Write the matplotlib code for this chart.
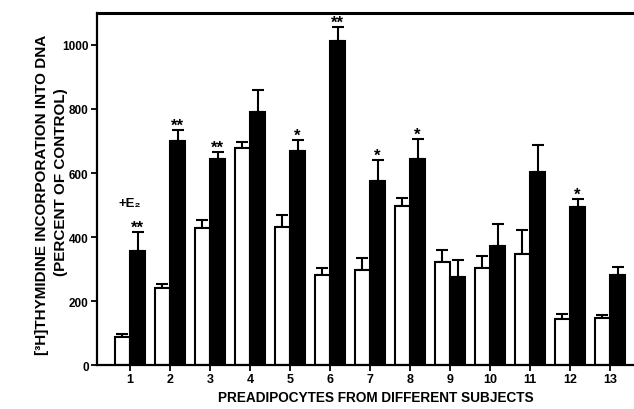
import matplotlib
matplotlib.use("Agg")
import matplotlib.pyplot as plt
import numpy as np

subjects = [1, 2, 3, 4, 5, 6, 7, 8, 9, 10, 11, 12, 13]
control = [88, 240, 428, 678, 432, 281, 297, 497, 322, 302, 347, 144, 147]
control_err = [9, 14, 25, 19, 38, 22, 37, 25, 38, 39, 74, 15, 9]
estradiol = [357, 700, 644, 790, 669, 1013, 574, 644, 274, 373, 604, 493, 282]
estradiol_err = [58, 35, 22, 70, 34, 43, 67, 63, 54, 68, 84, 25, 23]
signif = ["**", "**", "**", "", "*", "**", "*", "*", "", "", "", "*", ""]
yticks = [0, 200, 400, 600, 800, 1000]

plt.rcParams['font.family'] = ['Liberation Sans', 'DejaVu Sans']
plt.rcParams['font.weight'] = 'bold'

fig = plt.figure(figsize=(6.34, 4.10), dpi=100)
ax = fig.add_axes([0.153, 0.107, 0.847, 0.859])

x = np.array(subjects, dtype=float)
w = 0.38
ax.bar(x - w/2, control, width=w, color='white', edgecolor='black', linewidth=1.5, zorder=2)
ax.bar(x + w/2, estradiol, width=w, color='black', edgecolor='black', linewidth=1.5, zorder=2)
ax.errorbar(x - w/2, control, yerr=[np.zeros(len(control)), control_err], fmt='none',
            ecolor='black', elinewidth=1.5, capsize=4, capthick=1.5, zorder=1)
ax.errorbar(x + w/2, estradiol, yerr=[np.zeros(len(estradiol)), estradiol_err], fmt='none',
            ecolor='black', elinewidth=1.5, capsize=4, capthick=1.5, zorder=1)

for xi, v, e, s in zip(x, estradiol, estradiol_err, signif):
    if s:
        ax.text(xi + w/2, v + e - 8, s, ha='center', va='bottom', fontsize=12, fontweight='bold')

ax.text(1.0, 505, "+E₂", ha='center', va='center', fontsize=9.5, fontweight='bold')

ax.set_xlim(0.175, 13.6)
ax.set_ylim(0, 1100)
ax.set_xticks(subjects)
ax.set_xticklabels([str(s) for s in subjects], fontsize=9, fontweight='bold')
ax.set_yticks(yticks)
ax.set_yticklabels([str(t) for t in yticks], fontsize=8.5, fontweight='bold')
ax.tick_params(direction='out', length=4, width=1.3, pad=2)

ax.spines['right'].set_visible(False)
ax.spines['top'].set_linewidth(2.2)
ax.spines['left'].set_linewidth(1.6)
ax.spines['bottom'].set_linewidth(1.6)

fig.text(0.593, 0.029, "PREADIPOCYTES FROM DIFFERENT SUBJECTS", ha='center', va='center',
         fontsize=9.8, fontweight='bold')
fig.text(0.067, 0.525, "[³H]THYMIDINE INCORPORATION INTO DNA", rotation=90,
         ha='center', va='center', fontsize=11, fontweight='bold')
fig.text(0.097, 0.555, "(PERCENT OF CONTROL)", rotation=90,
         ha='center', va='center', fontsize=11, fontweight='bold')

fig.savefig("out.png", dpi=100)
